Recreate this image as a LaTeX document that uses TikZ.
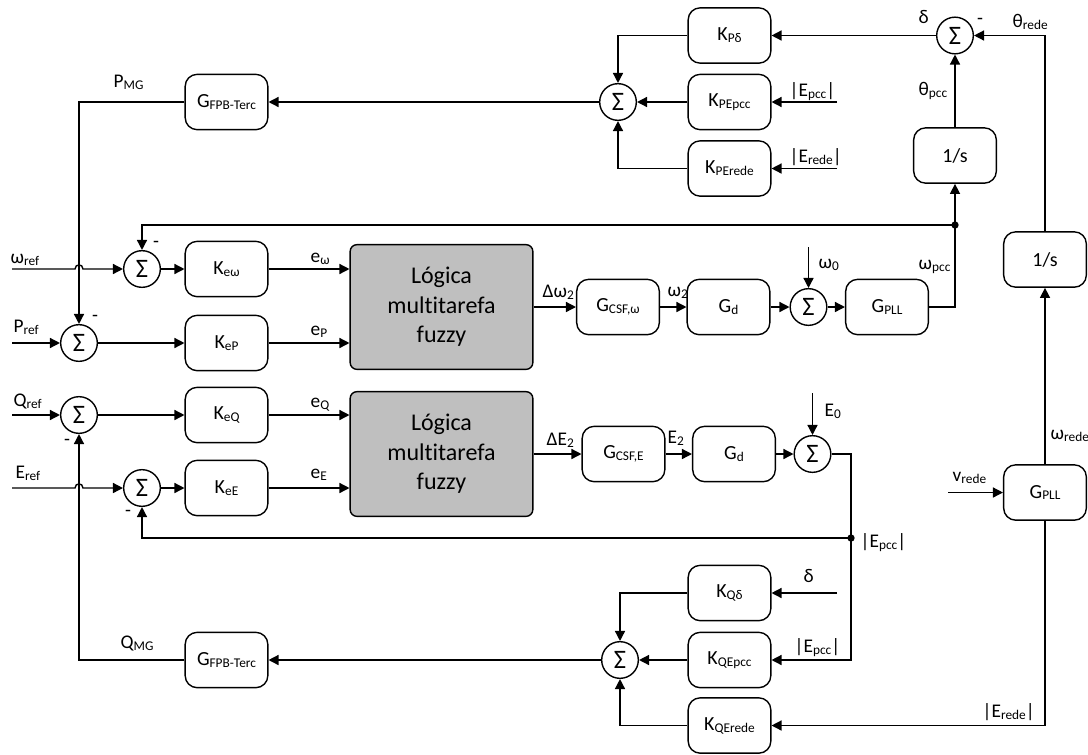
\documentclass[tikz,border=0pt]{standalone}
\usepackage{fontspec}
\setmainfont{Carlito}[Ligatures=NoCommon]
\usetikzlibrary{arrows.meta,calc}
% lowered, smaller text used for subscripts
\newcommand{\sbs}[1]{\raisebox{-1.5pt}{\fontsize{10}{12}\selectfont #1}}

\begin{document}
\begin{tikzpicture}[x=0.75pt,y=-0.75pt,
  line width=1.05pt,
  arr/.style={-{Triangle[length=7.5pt,width=7.5pt]}},
  blk/.style={draw, rounded corners=9pt, minimum width=62pt, minimum height=41.5pt,
    inner sep=0pt, font=\fontsize{15}{18}\selectfont},
  fuzzybox/.style={draw, fill=black!25, rounded corners=5pt, minimum width=137pt,
    minimum height=93.5pt, align=center, inner sep=0pt, font=\fontsize{18}{22}\selectfont},
  sumn/.style={draw, circle, minimum size=27.5pt, inner sep=0pt, font=\fontsize{20}{22}\selectfont},
  lbl/.style={anchor=base west, inner sep=0pt, font=\fontsize{14.5}{17}\selectfont},
  sgn/.style={inner sep=0pt, font=\fontsize{14.5}{17}\selectfont},
  jdot/.style={circle, fill, inner sep=0pt, minimum size=5.5pt}
]
\useasboundingbox (0,0) rectangle (1088,754);

% ---------------- active power correction (top) ----------------
\node[blk] (kpd)     at (729.5,35.5)  {K\sbs{Pδ}};
\node[blk] (kpepcc)  at (729.5,102)   {K\sbs{PEpcc}};
\node[blk] (kperede) at (729.5,168.5) {K\sbs{PErede}};
\node[sumn] (sp)     at (618,102)     {Σ};
\node[blk] (gfp)     at (226.5,102)   {G\sbs{FPB-Terc}};
\node[sumn] (sth)    at (955,35.5)    {Σ};
\node[blk] (inv1)    at (955,155.5)   {1/s};
\node[blk] (inv2)    at (1045,259.5)  {1/s};
\node[blk] (gpll2)   at (1045,492.5)  {G\sbs{PLL}};

% ---------------- frequency / active power loop ----------------
\node[sumn] (sw)     at (142,269)     {Σ};
\node[blk] (kew)     at (226.5,269)   {K\sbs{eω}};
\node[sumn] (spr)    at (79,343)      {Σ};
\node[blk] (kep)     at (226.5,343)   {K\sbs{eP}};
\node[fuzzybox] (fz1) at (441.5,307)  {Lógica\\multitarefa\\fuzzy};
\node[blk] (gcsfw)   at (618,307)     {G\sbs{CSF,ω}};
\node[blk] (gd1)     at (728.5,307)   {G\sbs{d}};
\node[sumn] (sw0)    at (808.5,307)   {Σ};
\node[blk] (gpll1)   at (887,307)     {G\sbs{PLL}};

% ---------------- voltage / reactive power loop ----------------
\node[sumn] (sq)     at (79,415)      {Σ};
\node[blk] (keq)     at (226.5,415)   {K\sbs{eQ}};
\node[sumn] (se)     at (142,488)     {Σ};
\node[blk] (kee)     at (226.5,488)   {K\sbs{eE}};
\node[fuzzybox] (fz2) at (441.5,454)  {Lógica\\multitarefa\\fuzzy};
\node[blk] (gcsfe)   at (623.5,454)   {G\sbs{CSF,E}};
\node[blk] (gd2)     at (734,454)     {G\sbs{d}};
\node[sumn] (se0)    at (812.5,454)   {Σ};

% ---------------- reactive power correction (bottom) ----------------
\node[blk] (kqd)     at (729.5,593)   {K\sbs{Qδ}};
\node[blk] (kqepcc)  at (729.5,660)   {K\sbs{QEpcc}};
\node[blk] (kqerede) at (729.5,725.5) {K\sbs{QErede}};
\node[sumn] (sq2)    at (620,660)     {Σ};
\node[blk] (gfq)     at (226.5,660)   {G\sbs{FPB-Terc}};

% free ends of input signals
\coordinate (wref)  at (12,269);
\coordinate (pref)  at (12,343);
\coordinate (qref)  at (12,415);
\coordinate (eref)  at (12,488);
\coordinate (w0)    at (808.5,247);
\coordinate (e0)    at (812.5,393);
\coordinate (vrede) at (948,492.5);
\coordinate (inpepcc)  at (837,102);
\coordinate (inperede) at (837,168.5);
\coordinate (inqd)     at (837,593);
\coordinate (j1)    at (955,225);
\coordinate (epcc)  at (851,538);
\coordinate (hop1)  at (spr |- wref);
\coordinate (hop2)  at (spr |- eref);

% ---------------- connectors: top ----------------
\draw[arr] (kpd.west) -| (sp.north);
\draw[arr] (kpepcc.west) -- (sp.east);
\draw[arr] (kperede.west) -| (sp.south);
\draw[arr] (sp.west) -- (gfp.east);
\draw[arr] (gfp.west) -| (spr.north);
\draw[arr] (sth.west) -- (kpd.east);
\draw[arr] (inv2.north) |- (sth.east);
\draw[arr] (inv1.north) -- (sth.south);
\draw[arr] (inpepcc) -- (kpepcc.east);
\draw[arr] (inperede) -- (kperede.east);

% ---------------- connectors: frequency loop ----------------
\draw[arr] (gpll1.east) -| (inv1.south);
\draw[arr] (j1) -| (sw.north);
\node[jdot] at (j1) {};
\draw[arr] (wref) -- ($(hop1)+(-4,0)$)
  .. controls ($(hop1)+(-4,-5.5)$) and ($(hop1)+(4,-5.5)$) .. ($(hop1)+(4,0)$)
  -- (sw.west);
\draw[arr] (sw.east) -- (kew.west);
\draw[arr] (kew.east) -- (kew.east -| fz1.west);
\draw[arr] (pref) -- (spr.west);
\draw[arr] (spr.east) -- (kep.west);
\draw[arr] (kep.east) -- (kep.east -| fz1.west);
\draw[arr] (fz1.east) -- (gcsfw.west);
\draw[arr] (gcsfw.east) -- (gd1.west);
\draw[arr] (gd1.east) -- (sw0.west);
\draw[arr] (w0) -- (sw0.north);
\draw[arr] (sw0.east) -- (gpll1.west);

% ---------------- connectors: voltage loop ----------------
\draw[arr] (qref) -- (sq.west);
\draw[arr] (sq.east) -- (keq.west);
\draw[arr] (keq.east) -- (keq.east -| fz2.west);
\draw[arr] (eref) -- ($(hop2)+(-4,0)$)
  .. controls ($(hop2)+(-4,-5.5)$) and ($(hop2)+(4,-5.5)$) .. ($(hop2)+(4,0)$)
  -- (se.west);
\draw[arr] (se.east) -- (kee.west);
\draw[arr] (kee.east) -- (kee.east -| fz2.west);
\draw[arr] (fz2.east) -- (gcsfe.west);
\draw[arr] (gcsfe.east) -- (gd2.west);
\draw[arr] (gd2.east) -- (se0.west);
\draw[arr] (e0) -- (se0.north);
\draw[arr] (se0.east) -| (epcc) |- (kqepcc.east);
\draw[arr] (epcc) -| (se.south);
\node[jdot] at (epcc) {};

% ---------------- connectors: bottom ----------------
\draw[arr] (inqd) -- (kqd.east);
\draw[arr] (kqd.west) -| (sq2.north);
\draw[arr] (kqepcc.west) -- (sq2.east);
\draw[arr] (kqerede.west) -| (sq2.south);
\draw[arr] (sq2.west) -- (gfq.east);
\draw[arr] (gfq.west) -| (sq.south);
\draw[arr] (gpll2.south) |- (kqerede.east);
\draw[arr] (vrede) -- (gpll2.west);
\draw[arr] (gpll2.north) -- (inv2.south);

% ---------------- signal labels ----------------
\node[lbl] at (113,87)  {P\sbs{MG}};
\node[lbl] at (120,648) {Q\sbs{MG}};
\node[lbl] at (10,263)  {ω\sbs{ref}};
\node[lbl] at (13,332)  {P\sbs{ref}};
\node[lbl] at (13,406)  {Q\sbs{ref}};
\node[lbl] at (15,478)  {E\sbs{ref}};
\node[lbl] at (310,262) {e\sbs{ω}};
\node[lbl] at (310,335) {e\sbs{P}};
\node[lbl] at (310,407) {e\sbs{Q}};
\node[lbl] at (310,478) {e\sbs{E}};
\node[lbl] at (542,297) {Δω\sbs{2}};
\node[lbl] at (667,296) {ω\sbs{2}};
\node[lbl] at (546,445) {ΔE\sbs{2}};
\node[lbl] at (667,443) {E\sbs{2}};
\node[lbl] at (818,268) {ω\sbs{0}};
\node[lbl] at (918,269) {ω\sbs{pcc}};
\node[lbl] at (824,416) {E\sbs{0}};
\node[lbl] at (1050,439) {ω\sbs{rede}};
\node[lbl] at (952,481) {v\sbs{rede}};
\node[lbl] at (860,547) {|E\sbs{pcc}|};
\node[lbl] at (803,582) {δ};
\node[lbl] at (794,652) {|E\sbs{pcc}|};
\node[lbl] at (982,717) {|E\sbs{rede}|};
\node[lbl] at (918,23)  {δ};
\node[lbl] at (1012,27) {θ\sbs{rede}};
\node[lbl] at (918,95)  {θ\sbs{pcc}};
\node[lbl] at (789,96)  {|E\sbs{pcc}|};
\node[lbl] at (789,162) {|E\sbs{rede}|};

% ---------------- sign marks at the summing junctions ----------------
\node[sgn] at (980,21)  {-};
\node[sgn] at (156,244) {-};
\node[sgn] at (95,318)  {-};
\node[sgn] at (67,442)  {-};
\node[sgn] at (128,513) {-};
\end{tikzpicture}
\end{document}
